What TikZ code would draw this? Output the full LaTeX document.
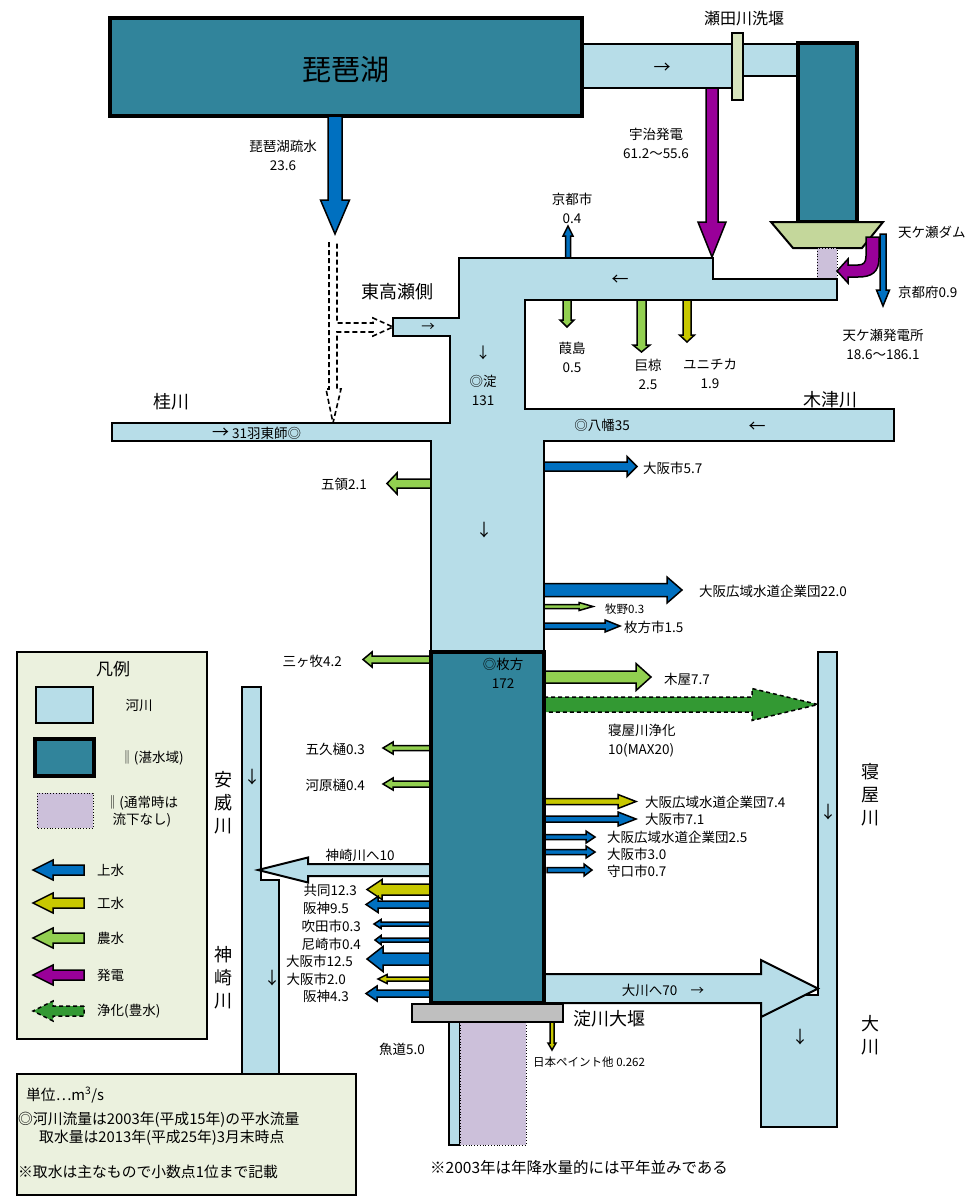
\documentclass[tikz,border=0pt]{standalone}
\usepackage{fontspec}
\setmainfont{Noto Sans CJK JP}
\definecolor{RiverClr}{HTML}{B7DDE8}
\definecolor{PoolClr}{HTML}{31849B}
\definecolor{NoteClr}{HTML}{EBF1DE}
\definecolor{TapClr}{HTML}{0070C0}
\definecolor{IndClr}{HTML}{C8C800}
\definecolor{FarmClr}{HTML}{92D050}
\definecolor{PowerClr}{HTML}{990099}
\definecolor{CleanClr}{HTML}{339933}
\definecolor{DryClr}{HTML}{CCC0DA}
\definecolor{WeirClr}{HTML}{BFBFBF}
\definecolor{GateClr}{HTML}{D7E4BD}
\definecolor{DamClr}{HTML}{C4D79B}

\newcommand{\flowH}[7]{\draw[#1] (#2,{#5-#6}) -- (#3,{#5-#6}) -- (#3,{#5-#7}) -- (#4,#5) -- (#3,{#5+#7}) -- (#3,{#5+#6}) -- (#2,{#5+#6}) -- cycle;}
\newcommand{\flowV}[7]{\draw[#1] ({#5-#6},#2) -- ({#5-#6},#3) -- ({#5-#7},#3) -- (#5,#4) -- ({#5+#7},#3) -- ({#5+#6},#3) -- ({#5+#6},#2) -- cycle;}

\tikzset{
  river/.style={fill=RiverClr,draw=black,line width=2pt},
  pool/.style={fill=PoolClr,draw=black,line width=3.5pt},
  dry/.style={fill=DryClr,draw=black,line width=0.8pt,dotted},
  tap/.style={fill=TapClr,draw=black,line width=1.5pt},
  ind/.style={fill=IndClr,draw=black,line width=1.5pt},
  farm/.style={fill=FarmClr,draw=black,line width=1.5pt},
  power/.style={fill=PowerClr,draw=black,line width=1.5pt},
  clean/.style={fill=CleanClr,draw=black,line width=1.5pt,dash pattern=on 4pt off 3pt},
  canaldash/.style={draw=black,line width=1.6pt,dash pattern=on 5pt off 3pt},
  notebox/.style={fill=NoteClr,draw=black,line width=2pt},
  lbl/.style={font=\fontsize{13.5}{19}\selectfont,align=center},
  small/.style={font=\fontsize{11.5}{13}\selectfont},
  rname/.style={font=\fontsize{18}{23}\selectfont,align=center},
  dir/.style={font=\fontsize{17}{20}\selectfont},
  note/.style={font=\fontsize{13.5}{17}\selectfont},
  memo/.style={font=\fontsize{14.8}{17}\selectfont,anchor=west}
}

\begin{document}
\begin{tikzpicture}[x=1pt,y=-1pt,line join=miter,every node/.style={inner sep=0pt}]
\useasboundingbox (0,0) rectangle (969,1197);

% Seta, lake, Amagase
\draw[river] (582,44) -- (798,44) -- (798,76) -- (737,76) -- (737,88) -- (582,88) -- cycle;
\draw[pool] (110,18) rectangle (582,116);
\draw[pool] (798,43) rectangle (857,222);
\draw[fill=GateClr,draw=black,line width=2pt] (732,33) rectangle (743,100);
\draw[fill=DamClr,draw=black,line width=2pt] (771,222) -- (883,222) -- (862,248) -- (793,248) -- cycle;
\draw[dry] (817,248) rectangle (837,280);

\flowV{power}{88}{222}{257}{712}{6}{14}
\flowV{tap}{258}{236}{226}{568}{2.5}{5}
\flowV{farm}{300}{320}{327}{567}{4}{7}
\flowV{farm}{300}{345}{352}{641.5}{4.5}{8.5}
\flowV{ind}{300}{335}{342}{687}{4}{7.5}
\flowV{tap}{234}{290}{306}{883}{3}{6.5}
\draw[power] (866,237) -- (879,237) -- (879,258) .. controls (879,272) and (872,277) .. (858,277) -- (848,277) -- (848,283) -- (837,271) -- (848,259) -- (848,265) -- (858,265) .. controls (864,265) and (866,262) .. (866,256) -- cycle;

% canal
\flowV{tap}{116}{200}{234}{335}{7}{14.5}
\draw[canaldash] (329,242) -- (329,389) -- (326,389) -- (333,423) -- (341,389) -- (337,389) -- (337,332) -- (373,332) -- (373,336) -- (393,327) -- (373,318) -- (373,323) -- (337,323) -- (337,242);

% intakes above Hirakata
\flowH{farm}{431}{397}{387}{483.5}{4.5}{10.5}
\flowH{tap}{544}{627}{637}{466.5}{4.5}{10}
\flowH{tap}{544}{667}{682}{590}{6.5}{13}
\flowH{farm}{544}{579}{593}{606.5}{2}{4}
\flowH{tap}{544}{605}{620}{626}{3}{6}

\draw[river] (459,258) -- (713,258) -- (713,279) -- (837,279) -- (837,300) -- (525,300) -- (525,409) -- (894,409) -- (894,441) -- (544,441) -- (544,652) -- (431,652) -- (431,441) -- (112,441) -- (112,423) -- (450,423) -- (450,336) -- (393,336) -- (393,318) -- (459,318) -- cycle;

% Ai, Kanzaki, Neya, Okawa
\draw[river] (242,687) -- (261,687) -- (261,880) -- (279,880) -- (279,1080) -- (242,1080) -- cycle;
\draw[river] (818,652) -- (837,652) -- (837,1127) -- (761,1127) -- (761,995) -- (818,995) -- cycle;
\flowH{river}{431}{308}{258}{870}{6}{12.5}
\flowH{river}{544}{761}{818}{988.5}{14.5}{28.5}

\flowH{farm}{431}{372}{363}{659.5}{3.5}{7.5}
\flowH{farm}{431}{393}{383}{748}{2.5}{6}
\flowH{farm}{431}{393}{383}{784}{3}{6}
\flowH{ind}{431}{382}{367}{889.5}{5.5}{10}
\flowH{tap}{431}{378}{366}{904.5}{3.5}{8}
\flowH{tap}{431}{381}{374}{924}{2}{4.5}
\flowH{tap}{431}{381}{375}{940}{2}{4.5}
\flowH{tap}{431}{383}{367}{959}{6}{12.5}
\flowH{ind}{431}{387}{378}{979}{2}{4.5}
\flowH{tap}{431}{377}{366}{993.5}{3.5}{7.5}

\flowH{farm}{544}{636}{651}{677}{6}{13.5}
\flowH{clean}{544}{752}{818}{704.5}{7.5}{16}
\flowH{ind}{544}{618}{636}{801.5}{3}{7}
\flowH{tap}{544}{618}{636}{819}{3}{7}
\flowH{tap}{544}{586}{595}{837}{2.5}{6}
\flowH{tap}{544}{586}{595}{852}{2.5}{6}
\flowH{tap}{547}{584}{592}{870}{2.5}{6}

\draw[pool] (431,652) rectangle (544,1003);

% Yodo weir
\draw[river] (449,1022) rectangle (460,1145);
\draw[dry] (460,1022) rectangle (526,1145);
\flowV{ind}{1022}{1043}{1050}{552}{2}{4}
\draw[fill=WeirClr,draw=black,line width=2pt] (412,1004) rectangle (563,1022);

% legend
\draw[notebox] (17,652) rectangle (207,1039);
\draw[river,line width=1.5pt] (36,687) rectangle (93,723);
\draw[pool] (35,739) rectangle (94,776);
\draw[dry] (37,793) rectangle (93,828);
\flowH{tap}{84}{53}{33}{870}{5}{10}
\flowH{ind}{84}{53}{33}{903}{5}{10}
\flowH{farm}{84}{53}{33}{938}{5}{10}
\flowH{power}{84}{53}{33}{975}{5}{10}
\flowH{clean}{84}{53}{33}{1011}{5}{10}
\draw[notebox] (17,1074) rectangle (356,1195);

% labels
\node[font=\fontsize{29}{32}\selectfont] (biwa) at (346,70) {琵琶湖};
\node[font=\fontsize{16}{18}\selectfont] (setaweir) at (744,18) {瀬田川洗堰};
\node[dir] (setadir) at (662,68) {→};
\node[lbl] (ujipw) at (656,143) {宇治発電\\61.2〜55.6};
\node[lbl] (sosui) at (283,155) {琵琶湖疏水\\23.6};
\node[lbl] (kyotoshi) at (572,208) {京都市\\0.4};
\node[lbl] (yoshijima) at (572,357) {葭島\\0.5};
\node[lbl] (ogura) at (648,374) {巨椋\\2.5};
\node[lbl] (unitika) at (710,374) {ユニチカ\\1.9};
\node[lbl,anchor=west] (amadam) at (898,232) {天ケ瀬ダム};
\node[lbl,anchor=west] (kyotofu) at (898,292) {京都府0.9};
\node[lbl] (amapw) at (883,344) {天ケ瀬発電所\\18.6〜186.1};
\node[dir] (ujidir) at (620,280) {←};
\node[rname] (takase) at (397,292) {東高瀬側};
\node[lbl] (takdir) at (428,327) {→};
\node[font=\fontsize{15}{17}\selectfont] (yododir) at (483,353) {↓};
\node[lbl] (yodo) at (483,390) {◎淀\\131};
\node[rname] (katsura) at (171,402) {桂川};
\node[lbl,anchor=west] (hazume) at (212,433) {{\fontsize{17}{17}\selectfont →} 31羽東師◎};
\node[rname] (kizu) at (830,400) {木津川};
\node[lbl] (yawata) at (602,425) {◎八幡35};
\node[dir] (kizudir) at (757,427) {←};
\node[lbl,anchor=east] (goryo) at (367,484) {五領2.1};
\node[dir] (maindir) at (484,530) {↓};
\node[lbl,anchor=west] (osaka57) at (643,468) {大阪市5.7};
\node[lbl,anchor=west] (kigyo22) at (699,591) {大阪広域水道企業団22.0};
\node[small,anchor=west] (makino) at (605,609) {牧野0.3};
\node[lbl,anchor=west] (hirakatashi) at (624,627) {枚方市1.5};
\node[lbl,anchor=east] (mikkamaki) at (342,661) {三ヶ牧4.2};
\node[lbl] (hirakata) at (503,673) {◎枚方\\172};
\node[lbl,anchor=west] (kiya) at (664,679) {木屋7.7};
\node[lbl,anchor=west,align=left] (jouka) at (608,741) {寝屋川浄化\\10(MAX20)};
\node[rname] (neya) at (870,795) {寝\\屋\\川};
\node[dir] (neyadir) at (828,812) {↓};
\node[lbl,anchor=west] (kigyo74) at (645,802) {大阪広域水道企業団7.4};
\node[lbl,anchor=west] (osaka71) at (645,819) {大阪市7.1};
\node[lbl,anchor=west] (kigyo25) at (607,837) {大阪広域水道企業団2.5};
\node[lbl,anchor=west] (osaka30) at (607,854) {大阪市3.0};
\node[lbl,anchor=west] (moriguchi) at (607,871) {守口市0.7};
\node[lbl,anchor=east] (gokyu) at (365,749) {五久樋0.3};
\node[lbl,anchor=east] (kawara) at (365,785) {河原樋0.4};
\node[rname] (aigawa) at (223,803) {安\\威\\川};
\node[dir] (aidir) at (252,777) {↓};
\node[rname] (kanzaki) at (223,978) {神\\崎\\川};
\node[dir] (kandir) at (272,978) {↓};
\node[lbl] (tokanzaki) at (360,855) {神崎川へ10};
\node[lbl,anchor=east] (kyodo) at (357,890) {共同12.3};
\node[lbl,anchor=east] (hanshin95) at (349,908) {阪神9.5};
\node[lbl,anchor=east] (suita) at (361,926) {吹田市0.3};
\node[lbl,anchor=east] (amagasaki) at (361,944) {尼崎市0.4};
\node[lbl,anchor=east] (osaka125) at (353,961) {大阪市12.5};
\node[lbl,anchor=east] (osaka20) at (346,979) {大阪市2.0};
\node[lbl,anchor=east] (hanshin43) at (349,996) {阪神4.3};
\node[lbl] (tookawa) at (663,990) {大川へ70\quad →};
\node[dir] (okdir) at (800,1037) {↓};
\node[rname] (okawa) at (870,1035) {大\\川};
\node[rname,anchor=west] (yodoweir) at (573,1019) {淀川大堰};
\node[small,anchor=west] (paint) at (533,1062) {日本ペイント他 0.262};
\node[lbl,anchor=east] (gyodo) at (425,1049) {魚道5.0};
\node[font=\fontsize{15.5}{17}\selectfont,anchor=west] (heinen) at (430,1168) {※2003年は年降水量的には平年並みである};

\node[font=\fontsize{17}{20}\selectfont] (hanrei) at (113,669) {凡例};
\node[note] (lgriver) at (139,706) {河川};
\node[note] (lgpool) at (152,758) {‖(湛水域)};
\node[note,align=center] (lgdry) at (142,811) {‖(通常時は\\流下なし)};
\node[note,anchor=west] (lgtap) at (97,870) {上水};
\node[note,anchor=west] (lgind) at (97,903) {工水};
\node[note,anchor=west] (lgfarm) at (97,938) {農水};
\node[note,anchor=west] (lgpower) at (97,975) {発電};
\node[note,anchor=west] (lgclean) at (97,1011) {浄化(豊水)};

\node[memo] (unit) at (26,1095) {単位…m\textsuperscript{3}/s};
\node[memo] (flowref) at (18,1120) {◎河川流量は2003年(平成15年)の平水流量};
\node[memo] (takeref) at (39,1138) {取水量は2013年(平成25年)3月末時点};
\node[memo] (decref) at (18,1172) {※取水は主なもので小数点1位まで記載};
\end{tikzpicture}
\end{document}
